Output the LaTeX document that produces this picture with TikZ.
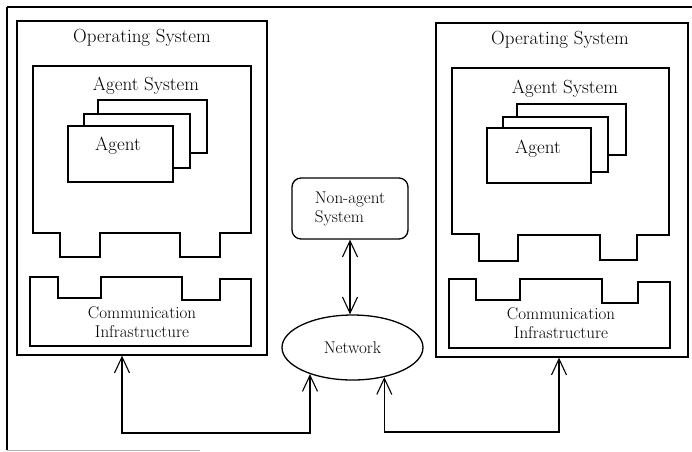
\documentclass[tikz,border=0pt]{standalone}
\usetikzlibrary{arrows.meta,shapes.geometric}
\begin{document}
\begin{tikzpicture}[x=1pt,y=-1pt,line width=1.3pt,line join=miter,
  osbox/.style={draw,rectangle,inner sep=0pt,minimum height=334pt},
  card/.style={draw,fill=white,rectangle,inner sep=0pt},
  bigtxt/.style={font=\fontsize{19}{22}\selectfont,inner sep=0pt,anchor=base},
  smalltxt/.style={font=\fontsize{17}{19}\selectfont},
  tip/.tip={Straight Barb[length=16pt,width=15pt,line width=1.1pt]},
  link/.style={line width=1.1pt,tip-tip}]
\useasboundingbox (0,0) rectangle (692,451);

% outer frame (right side runs off the page)
\draw (7,7) -- (692,7);
\draw (7,7) -- (7,450);
\draw[gray!60,line width=0.8pt] (7,450) -- (200,450);

% ---------- left host ----------
\node[osbox,minimum width=250pt] (osL) at (142,188) {};
\node[bigtxt] (osLt) at (142,42) {Operating System};
\draw (33,66) -- (251,66) -- (251,233) -- (220,233) -- (220,257) -- (180,257)
  -- (180,233) -- (100,233) -- (100,257) -- (60,257) -- (60,233) -- (33,233) -- cycle;
\node[bigtxt] (asLt) at (146,90) {Agent System};
\node[card,minimum width=109pt,minimum height=53pt] (aL3) at (152.5,126.5) {};
\node[card,minimum width=106pt,minimum height=54pt] (aL2) at (137,141) {};
\node[card,minimum width=105pt,minimum height=56pt] (aL1) at (120.5,154) {};
\node[bigtxt] (aLt) at (118,150) {Agent};
\draw (30,277) -- (58,277) -- (58,298) -- (101,298) -- (101,277) -- (182,277)
  -- (182,300) -- (220,300) -- (220,279) -- (251,279) -- (251,346) -- (30,346) -- cycle;
\node[smalltxt,align=center,inner sep=0pt] (ciL) at (142,322) {Communication\\Infrastructure};

% ---------- right host ----------
\node[osbox,minimum width=252pt] (osR) at (562,190) {};
\node[bigtxt] (osRt) at (560,44) {Operating System};
\draw (452,68) -- (669,68) -- (669,235) -- (637,235) -- (637,260) -- (600,260)
  -- (600,235) -- (518,235) -- (518,261) -- (479,261) -- (479,234) -- (452,234) -- cycle;
\node[bigtxt] (asRt) at (565,93) {Agent System};
\node[card,minimum width=109pt,minimum height=51pt] (aR3) at (571.5,129.5) {};
\node[card,minimum width=105pt,minimum height=55pt] (aR2) at (555.5,144.5) {};
\node[card,minimum width=104pt,minimum height=55pt] (aR1) at (539,155.5) {};
\node[bigtxt] (aRt) at (538,153) {Agent};
\draw (449,279) -- (476,279) -- (476,300) -- (520,300) -- (520,279) -- (602,279)
  -- (602,303) -- (638,303) -- (638,282) -- (670,282) -- (670,348) -- (449,348) -- cycle;
\node[smalltxt,align=center,inner sep=0pt] (ciR) at (561,323) {Communication\\Infrastructure};

% ---------- middle ----------
\node[draw,rounded corners=9pt,minimum width=116pt,minimum height=61pt,inner sep=0pt,
  align=left,smalltxt] (na) at (350,208.5) {Non-agent\\System};
\node[draw,ellipse,minimum width=141pt,minimum height=65pt,inner sep=0pt,smalltxt]
  (net) at (352.5,347.5) {Network};

% ---------- links ----------
\coordinate (bendL) at (122,433);
\coordinate (bendR) at (559,432);
\draw[link] (na.south) -- (na.south |- net.north);
\draw[link] (net.212) |- (bendL) -- (bendL |- osL.south);
\draw[link] (net.317) |- (bendR) -- (bendR |- osR.south);
\end{tikzpicture}
\end{document}
